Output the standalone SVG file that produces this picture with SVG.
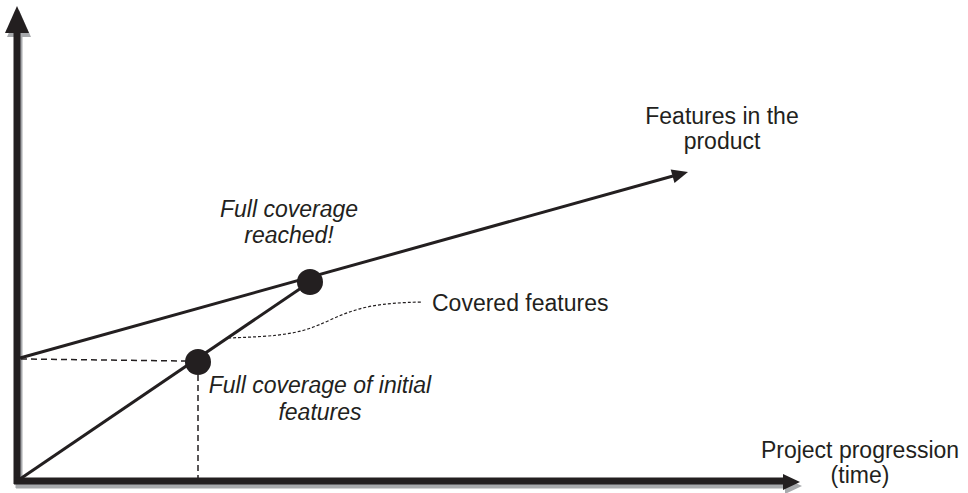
<svg xmlns="http://www.w3.org/2000/svg" width="968" height="493" viewBox="0 0 968 493">
<style>
text{font-family:"Liberation Sans",Arial,sans-serif;font-size:23px;fill:#231f20}
.it{font-style:italic}
.ln{stroke:#231f20;stroke-width:3;fill:none}
.dash{stroke:#231f20;stroke-width:1.5;fill:none;stroke-dasharray:6 4}
.dot{stroke:#231f20;stroke-width:1.2;fill:none;stroke-dasharray:3 2}
.ax{stroke:#231f20;stroke-width:7;fill:none}
.sh{stroke:#a7a9ac;stroke-width:7;fill:none}
</style>
<rect width="968" height="493" fill="#fff"/>
<g id="axes">
  <g transform="translate(2,4)" fill="#a7a9ac">
    <line class="sh" x1="17" y1="30" x2="17" y2="484"/>
    <line class="sh" x1="14" y1="481" x2="785" y2="481"/>
    <polygon points="17,6 5,33 29,33"/>
    <polygon points="800,482 783,474 783,490"/>
  </g>
  <line class="ax" x1="17" y1="30" x2="17" y2="484"/>
  <line class="ax" x1="14" y1="481" x2="785" y2="481"/>
  <polygon points="17,6 5,33 29,33" fill="#231f20"/>
  <polygon points="800,482 783,474 783,490" fill="#231f20"/>
</g>
<g id="connectors">
  <line class="ln" x1="20" y1="358" x2="673" y2="176"/>
  <polygon points="688,172 674.5,183 670.7,169.6" fill="#231f20"/>
  <line class="ln" x1="20" y1="479" x2="310" y2="282"/>
  <line class="dash" x1="21" y1="359" x2="186" y2="361"/>
  <line class="dash" x1="198" y1="375" x2="198" y2="478"/>
  <path class="dot" d="M228,338 C285,336 300,334 330,320 C360,306 380,303 422,302"/>
</g>
<g id="dot-initial"><circle cx="198" cy="362" r="13" fill="#231f20"/></g>
<g id="dot-full"><circle cx="310" cy="282" r="13" fill="#231f20"/></g>
<g id="label-features"><text x="722" y="124" text-anchor="middle">Features in the</text><text x="722" y="149" text-anchor="middle">product</text></g>
<g id="label-full"><text class="it" x="289" y="217" text-anchor="middle">Full coverage</text><text class="it" x="289" y="243" text-anchor="middle">reached!</text></g>
<g id="label-covered"><text x="432" y="311">Covered features</text></g>
<g id="label-initial"><text class="it" x="320" y="393" text-anchor="middle">Full coverage of initial</text><text class="it" x="320" y="420" text-anchor="middle">features</text></g>
<g id="label-time"><text x="860" y="458" text-anchor="middle">Project progression</text><text x="860" y="483" text-anchor="middle">(time)</text></g>
</svg>
